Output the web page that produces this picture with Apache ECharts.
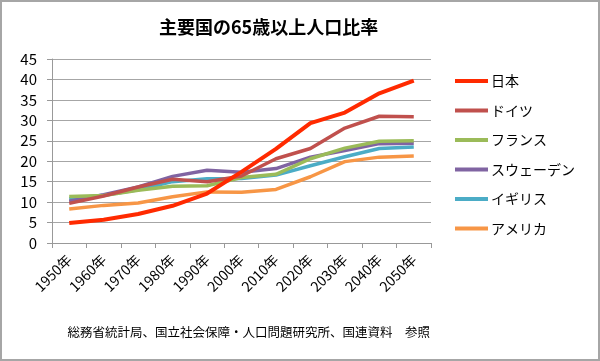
<!DOCTYPE html>
<html><head><meta charset="utf-8">
<script src="https://cdn.jsdelivr.net/npm/echarts@6/dist/echarts.min.js"></script>
<style>
html,body{margin:0;padding:0;background:#fff;}
#c{width:600px;height:361px;box-sizing:border-box;border:2px solid #a6a6a6;}
</style></head>
<body><div id="c"></div>
<script>
const categories = ['1950年','1960年','1970年','1980年','1990年','2000年','2010年','2020年','2030年','2040年','2050年'];
const japan   = [4.9, 5.7, 7.1, 9.1, 12.1, 17.4, 23.0, 29.3, 31.9, 36.6, 39.7];
const germany = [9.7, 11.5, 13.7, 15.6, 15.0, 16.4, 20.6, 23.1, 28.1, 31.0, 30.9];
const france  = [11.4, 11.6, 12.9, 13.9, 14.0, 16.0, 16.8, 20.6, 23.2, 24.9, 25.0];
const sweden  = [10.2, 11.8, 13.7, 16.3, 17.8, 17.3, 18.2, 21.0, 22.6, 24.3, 24.4];
const uk      = [10.8, 11.7, 13.0, 15.0, 15.7, 15.8, 16.6, 18.9, 21.1, 23.1, 23.5];
const usa     = [8.3, 9.2, 9.8, 11.3, 12.5, 12.4, 13.1, 16.2, 19.9, 21.0, 21.3];
const seriesNames = ['日本','ドイツ','フランス','スウェーデン','イギリス','アメリカ'];
const yTicks = [0,5,10,15,20,25,30,35,40,45];

const font = '"Noto Sans CJK JP", "Noto Sans", sans-serif';
const colors = ['#ff2a00','#c0504d','#9bbb59','#8064a2','#4bacc6','#f79646'];
const dataSets = [japan, germany, france, sweden, uk, usa];

const chart = echarts.init(document.getElementById('c'), null, {renderer:'canvas'});
chart.setOption({
  animation:false,
  color: colors,
  title: {
    text: '主要国の65歳以上人口比率',
    left: 152, top: 11,
    textStyle: {fontFamily: font, fontSize: 18, fontWeight: 'bold', color: '#000'}
  },
  legend: {
    orient: 'vertical', left: 448, top: 67,
    itemWidth: 33, itemHeight: 4, itemGap: 15.5,
    icon: 'rect',
    textStyle: {fontFamily: font, fontSize: 14, color: '#000', padding:[0,0,0,-2]},
    data: seriesNames
  },
  grid: {left: 50, right: 167, top: 57, bottom: 116, containLabel: false},
  xAxis: {
    type: 'category', data: categories, boundaryGap: true,
    axisLine: {show: true, lineStyle: {color: '#999', width: 1}},
    axisTick: {show: true, length: 5, lineStyle: {color: '#999'}},
    axisLabel: {rotate: 45, fontFamily: font, fontSize: 14, color: '#000', margin: 14, interval: 0}
  },
  yAxis: {
    type: 'value', min: 0, max: 45, interval: 5,
    axisLine: {show: true, lineStyle: {color: '#999', width: 1}},
    axisTick: {show: true, length: 5, lineStyle: {color: '#999'}},
    splitLine: {lineStyle: {color: '#a6a6a6', width: 1}},
    axisLabel: {fontFamily: font, fontSize: 15, color: '#000', margin: 15,
      formatter: v => yTicks.includes(v) ? String(v) : ''}
  },
  graphic: [{
    type: 'text', right: 168, top: 324,
    style: {text: '総務省統計局、国立社会保障・人口問題研究所、国連資料　参照', font: '12.5px ' + font, fill: '#000'}
  }],
  series: dataSets.map((d, i) => ({
    name: seriesNames[i], type: 'line', data: d,
    symbol: 'none', smooth: false,
    lineStyle: {width: i === 0 ? 4 : 3.5, color: colors[i]},
    z: 10 - i
  }))
});
</script></body></html>
